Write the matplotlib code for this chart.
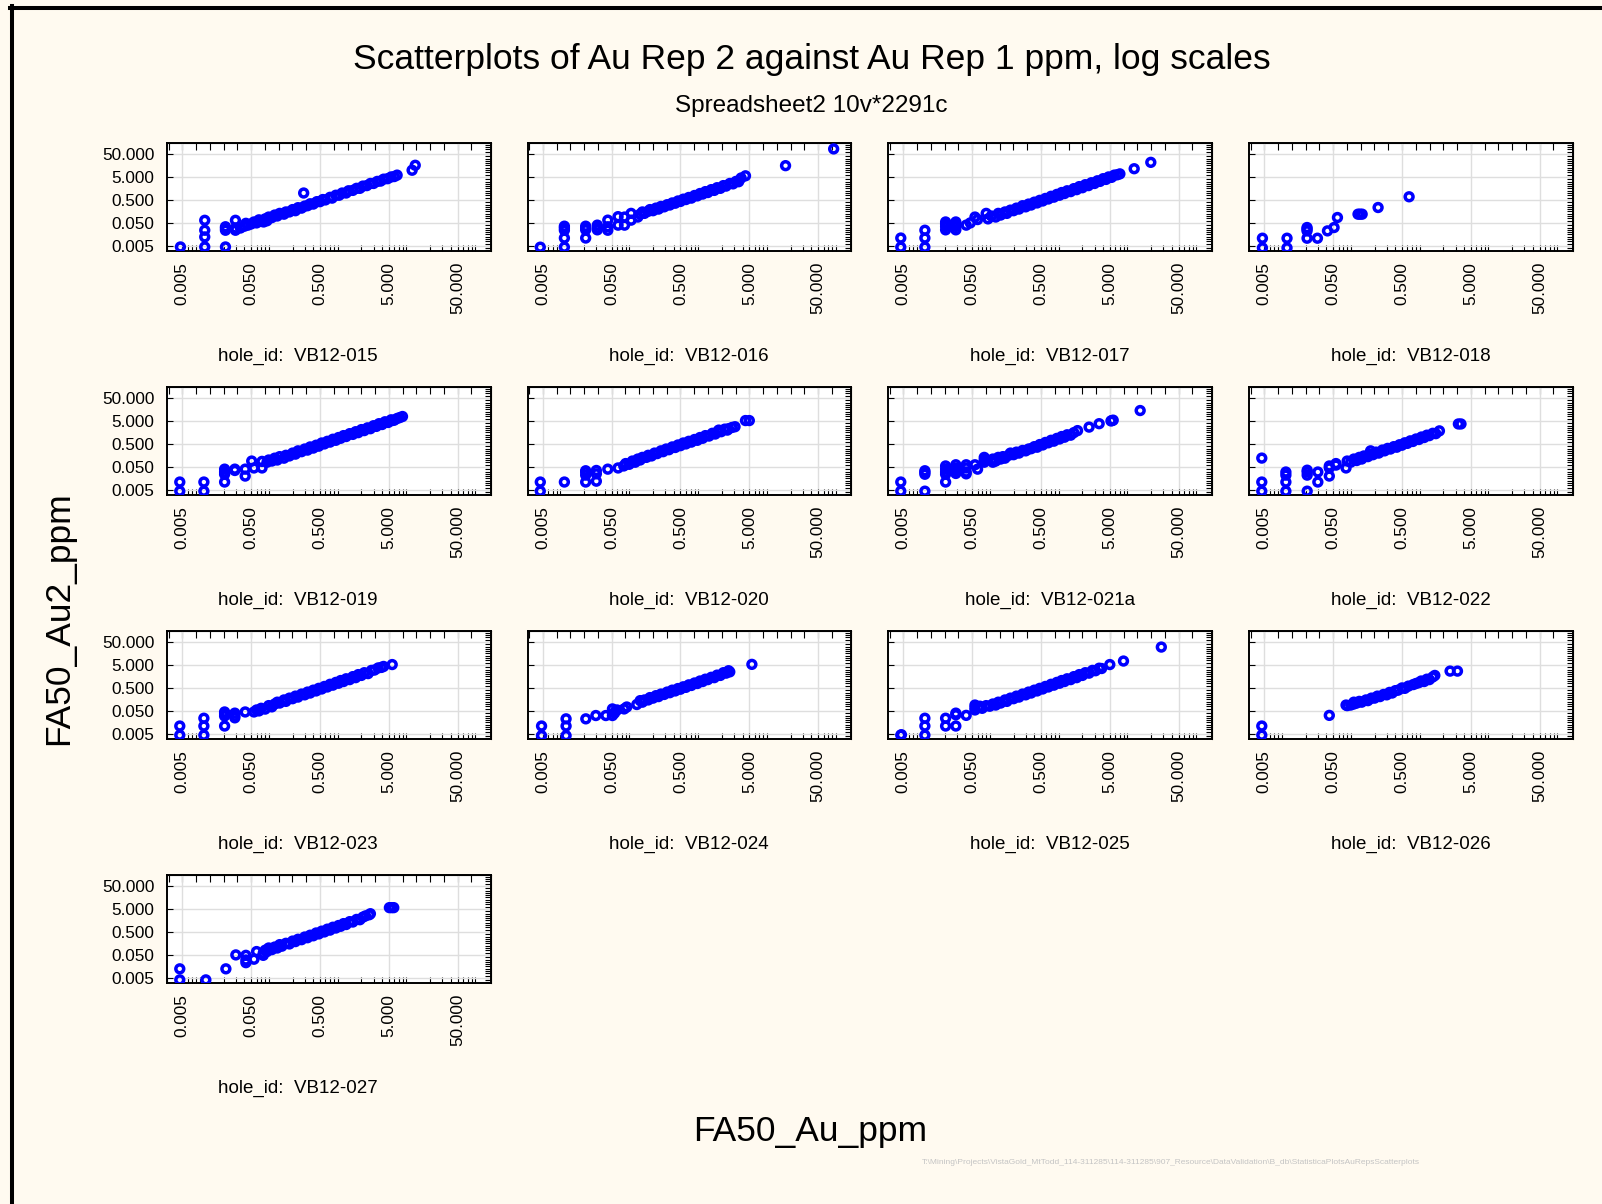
import numpy as np
import matplotlib
matplotlib.use("Agg")
import matplotlib.pyplot as plt
from matplotlib.lines import Line2D
from matplotlib.ticker import FixedLocator, FixedFormatter, LogLocator, NullFormatter, NullLocator

plt.rcParams["font.family"] = ["Liberation Sans", "DejaVu Sans"]

# ── Data: (Au Rep 1, Au Rep 2) in ppm ────────────────────────────────────────

pts_015 = [
    (0.0047, 0.0045), (0.0106, 0.0045), (0.0106, 0.0123), (0.0106, 0.024), (0.0106, 0.065),
    (0.0212, 0.0045), (0.0212, 0.024), (0.0212, 0.029), (0.0212, 0.034),
    (0.0296, 0.024), (0.0296, 0.03), (0.0296, 0.065),
    (0.035, 0.030), (0.04, 0.036), (0.042, 0.048), (0.045, 0.040), (0.05, 0.045),
    (0.055, 0.055), (0.06, 0.050), (0.065, 0.068), (0.07, 0.058), (0.076, 0.055),
    (0.08, 0.075), (0.085, 0.062), (0.09, 0.09), (0.1, 0.085), (0.11, 0.11),
    (0.12, 0.10), (0.13, 0.13), (0.15, 0.12), (0.16, 0.15), (0.18, 0.15),
    (0.2, 0.19), (0.22, 0.17), (0.24, 0.23), (0.27, 0.22), (0.3, 0.27),
    (0.33, 0.28), (0.36, 0.34), (0.4, 0.33), (0.45, 0.42), (0.5, 0.42),
    (0.55, 0.52), (0.6, 0.5), (0.7, 0.65), (0.75, 0.6), (0.85, 0.8),
    (0.95, 0.8), (1.05, 1.0), (1.2, 1.0), (1.3, 1.25), (1.5, 1.3),
    (1.7, 1.6), (1.9, 1.6), (2.1, 2.0), (2.4, 2.1), (2.7, 2.6),
    (3.0, 2.6), (3.4, 3.2), (3.8, 3.3), (4.2, 4.0), (4.8, 4.2),
    (5.4, 5.0), (6.0, 5.2), (6.6, 6.0),
    (0.29, 1.0), (10.9, 9.8), (12.1, 16.1),
]

pts_016 = [
    (0.0046, 0.0044), (0.0103, 0.0044), (0.0103, 0.011), (0.0103, 0.024), (0.0103, 0.030),
    (0.0103, 0.036), (0.021, 0.011), (0.021, 0.025), (0.021, 0.03), (0.021, 0.036),
    (0.031, 0.04), (0.031, 0.03), (0.031, 0.025),
    (0.044, 0.066), (0.044, 0.034), (0.044, 0.024),
    (0.062, 0.0935), (0.062, 0.04), (0.077, 0.04), (0.077, 0.09),
    (0.096, 0.066), (0.096, 0.13), (0.12, 0.09),
    (0.13, 0.12), (0.14, 0.15), (0.15, 0.13), (0.17, 0.16), (0.18, 0.19),
    (0.2, 0.17), (0.22, 0.22), (0.24, 0.2), (0.26, 0.26), (0.29, 0.25),
    (0.32, 0.31), (0.35, 0.3), (0.38, 0.37), (0.42, 0.36), (0.46, 0.45),
    (0.5, 0.43), (0.55, 0.54), (0.6, 0.52), (0.66, 0.64), (0.72, 0.6),
    (0.8, 0.78), (0.88, 0.75), (0.96, 0.95), (1.05, 0.9), (1.15, 1.15),
    (1.25, 1.05), (1.4, 1.4), (1.55, 1.3), (1.7, 1.7), (1.9, 1.6),
    (2.1, 2.1), (2.3, 2.0), (2.6, 2.6), (2.9, 2.5), (3.2, 3.2), (3.5, 3.1),
    (3.8, 4.5), (4.4, 5.6), (16.8, 15.5), (84.0, 83.0),
]

pts_017 = [
    (0.0046, 0.0044), (0.0046, 0.011), (0.0103, 0.0044), (0.0103, 0.011), (0.0103, 0.024),
    (0.0206, 0.055), (0.0206, 0.045), (0.0206, 0.035), (0.0206, 0.025),
    (0.029, 0.055), (0.029, 0.045), (0.029, 0.035), (0.029, 0.025),
    (0.041, 0.04), (0.047, 0.05), (0.055, 0.09), (0.06, 0.07), (0.08, 0.13),
    (0.085, 0.075), (0.095, 0.1), (0.11, 0.09), (0.12, 0.13), (0.13, 0.11),
    (0.15, 0.15), (0.16, 0.13), (0.18, 0.18), (0.2, 0.17), (0.22, 0.22),
    (0.24, 0.2), (0.27, 0.28), (0.3, 0.25), (0.33, 0.33), (0.36, 0.3),
    (0.4, 0.4), (0.44, 0.37), (0.48, 0.48), (0.53, 0.45), (0.58, 0.58),
    (0.64, 0.55), (0.7, 0.72), (0.77, 0.66), (0.85, 0.87), (0.93, 0.8),
    (1.0, 1.05), (1.1, 0.95), (1.2, 1.25), (1.35, 1.15), (1.5, 1.55),
    (1.65, 1.4), (1.8, 1.9), (2.0, 1.7), (2.2, 2.3), (2.45, 2.1),
    (2.7, 2.8), (3.0, 2.6), (3.3, 3.4), (3.6, 3.2), (4.0, 4.2),
    (4.4, 3.9), (4.8, 5.0), (5.3, 4.8), (5.8, 6.0), (6.4, 6.2), (7.0, 6.8),
    (11.3, 11.4), (19.7, 21.6),
]

pts_018 = [
    (0.0047, 0.0041), (0.0047, 0.0108), (0.0107, 0.0041), (0.0107, 0.0108),
    (0.0209, 0.0108), (0.0209, 0.0225), (0.0209, 0.027), (0.0209, 0.0315),
    (0.0296, 0.0108), (0.0414, 0.0225), (0.0516, 0.0315), (0.0578, 0.086),
    (0.115, 0.12), (0.123, 0.12), (0.132, 0.12), (0.225, 0.234), (0.635, 0.686),
]

pts_019 = [
    (0.0046, 0.0044), (0.0046, 0.011), (0.0103, 0.0044), (0.0103, 0.011),
    (0.0206, 0.011), (0.0206, 0.04), (0.0206, 0.03), (0.0206, 0.024),
    (0.029, 0.04), (0.029, 0.035), (0.041, 0.04), (0.041, 0.02),
    (0.051, 0.09), (0.055, 0.045), (0.072, 0.045), (0.072, 0.087),
    (0.085, 0.08), (0.09, 0.1), (0.1, 0.09), (0.11, 0.12), (0.12, 0.1),
    (0.13, 0.14), (0.15, 0.12), (0.16, 0.16), (0.18, 0.15), (0.2, 0.2),
    (0.22, 0.18), (0.24, 0.25), (0.27, 0.23), (0.3, 0.3), (0.33, 0.27),
    (0.36, 0.37), (0.4, 0.33), (0.44, 0.44), (0.48, 0.4), (0.53, 0.55),
    (0.58, 0.5), (0.64, 0.65), (0.7, 0.6), (0.77, 0.8), (0.85, 0.72),
    (0.93, 0.95), (1.0, 0.88), (1.1, 1.15), (1.2, 1.05), (1.35, 1.4),
    (1.5, 1.3), (1.65, 1.7), (1.8, 1.55), (2.0, 2.1), (2.2, 1.9),
    (2.45, 2.5), (2.7, 2.3), (3.0, 3.1), (3.3, 2.9), (3.6, 3.8),
    (4.0, 3.5), (4.4, 4.6), (4.9, 4.3), (5.4, 5.6), (6.0, 5.4),
    (6.6, 6.4), (7.2, 7.0), (7.9, 7.8), (5.6, 5.2),
]

pts_020 = [
    (0.0046, 0.0044), (0.0046, 0.011), (0.0103, 0.011),
    (0.021, 0.011), (0.021, 0.022), (0.021, 0.03), (0.021, 0.034),
    (0.03, 0.012), (0.03, 0.025), (0.03, 0.035), (0.044, 0.04), (0.062, 0.045),
    (0.075, 0.055), (0.08, 0.07), (0.09, 0.065), (0.1, 0.09), (0.11, 0.08),
    (0.12, 0.11), (0.13, 0.1), (0.14, 0.13), (0.16, 0.13), (0.17, 0.16),
    (0.19, 0.15), (0.21, 0.2), (0.23, 0.19), (0.26, 0.25), (0.28, 0.23),
    (0.31, 0.3), (0.34, 0.28), (0.38, 0.37), (0.42, 0.35), (0.46, 0.45),
    (0.5, 0.42), (0.55, 0.55), (0.6, 0.5), (0.66, 0.65), (0.72, 0.6),
    (0.8, 0.78), (0.88, 0.72), (0.96, 0.95), (1.05, 0.88), (1.15, 1.15),
    (1.3, 1.1), (1.45, 1.45), (1.6, 1.35), (1.75, 1.75), (1.95, 1.7),
    (2.2, 2.2), (2.5, 2.3), (2.8, 2.6), (3.1, 2.8),
    (1.8, 2.0), (2.4, 2.0), (4.4, 5.2), (5.0, 5.2),
]

pts_021a = [
    (0.0046, 0.0044), (0.0046, 0.011), (0.0103, 0.0044), (0.0103, 0.024),
    (0.0103, 0.034), (0.0103, 0.029), (0.0206, 0.011), (0.0206, 0.055),
    (0.0206, 0.04), (0.0206, 0.03), (0.0206, 0.024),
    (0.029, 0.062), (0.029, 0.045), (0.029, 0.035), (0.029, 0.026),
    (0.041, 0.062), (0.041, 0.045), (0.041, 0.03), (0.041, 0.025),
    (0.055, 0.062), (0.06, 0.04), (0.075, 0.13), (0.075, 0.1), (0.075, 0.08),
    (0.1, 0.08), (0.1, 0.11), (0.11, 0.09), (0.12, 0.13), (0.13, 0.11),
    (0.14, 0.14), (0.15, 0.12), (0.17, 0.16), (0.18, 0.2), (0.2, 0.17),
    (0.22, 0.22), (0.24, 0.2), (0.27, 0.26), (0.3, 0.25), (0.33, 0.3),
    (0.36, 0.31), (0.4, 0.38), (0.44, 0.36), (0.48, 0.47), (0.53, 0.45),
    (0.58, 0.58), (0.64, 0.56), (0.7, 0.72), (0.77, 0.66), (0.85, 0.87),
    (0.93, 0.82), (1.0, 1.05), (1.1, 0.98), (1.2, 1.25), (1.35, 1.2),
    (1.5, 1.55), (1.7, 1.9), (2.5, 2.7), (3.5, 3.8),
    (5.2, 5.0), (5.4, 5.2), (5.6, 5.4), (13.8, 14.2),
]

pts_022 = [
    (0.0046, 0.0044), (0.0046, 0.011), (0.0046, 0.121),
    (0.0103, 0.0044), (0.0103, 0.011), (0.0103, 0.022), (0.0103, 0.03),
    (0.021, 0.0044), (0.021, 0.022), (0.021, 0.03), (0.021, 0.036),
    (0.03, 0.011), (0.03, 0.03), (0.044, 0.02), (0.044, 0.045), (0.044, 0.055),
    (0.055, 0.06), (0.055, 0.07), (0.077, 0.045),
    (0.08, 0.09), (0.09, 0.08), (0.1, 0.11), (0.11, 0.095), (0.12, 0.13),
    (0.13, 0.11), (0.14, 0.15), (0.16, 0.14), (0.17, 0.18), (0.175, 0.25),
    (0.19, 0.17), (0.21, 0.22), (0.23, 0.2), (0.26, 0.27), (0.28, 0.25),
    (0.31, 0.32), (0.34, 0.3), (0.38, 0.38), (0.42, 0.36), (0.46, 0.46),
    (0.5, 0.44), (0.55, 0.56), (0.6, 0.53), (0.66, 0.68), (0.72, 0.64),
    (0.8, 0.82), (0.88, 0.78), (0.96, 1.0), (1.05, 0.95), (1.15, 1.2),
    (1.25, 1.15), (1.4, 1.45), (1.55, 1.4), (1.75, 1.85),
    (3.3, 3.7), (3.6, 3.7),
]

pts_023 = [
    (0.0046, 0.0044), (0.0046, 0.011), (0.0103, 0.0044), (0.0103, 0.011), (0.0103, 0.024),
    (0.0206, 0.011), (0.0206, 0.03), (0.0206, 0.038), (0.0206, 0.045),
    (0.029, 0.04), (0.029, 0.03), (0.029, 0.025), (0.041, 0.045),
    (0.055, 0.045), (0.06, 0.055),
    (0.065, 0.05), (0.07, 0.065), (0.08, 0.06), (0.09, 0.085), (0.1, 0.075),
    (0.11, 0.1), (0.12, 0.12), (0.13, 0.11), (0.15, 0.15), (0.16, 0.13),
    (0.18, 0.18), (0.2, 0.17), (0.22, 0.22), (0.24, 0.2), (0.27, 0.27),
    (0.3, 0.25), (0.33, 0.33), (0.36, 0.3), (0.4, 0.4), (0.44, 0.37),
    (0.48, 0.48), (0.53, 0.45), (0.58, 0.58), (0.64, 0.55), (0.7, 0.72),
    (0.77, 0.66), (0.85, 0.87), (0.93, 0.8), (1.0, 1.05), (1.1, 0.95),
    (1.2, 1.25), (1.35, 1.15), (1.5, 1.55), (1.65, 1.4), (1.8, 1.9),
    (2.0, 1.75), (2.2, 2.3), (2.5, 2.1), (2.8, 2.9), (3.1, 3.0),
    (3.5, 3.7), (3.9, 3.9), (4.2, 4.3), (5.6, 5.2),
]

pts_024 = [
    (0.0048, 0.0042), (0.0048, 0.011), (0.0109, 0.0042), (0.0109, 0.011), (0.0109, 0.0226),
    (0.0211, 0.0226), (0.0295, 0.0315), (0.0412, 0.0315), (0.0514, 0.0315),
    (0.0514, 0.061), (0.055, 0.04), (0.057, 0.05), (0.06, 0.055), (0.076, 0.061),
    (0.083, 0.074), (0.116, 0.095),
    (0.13, 0.14), (0.14, 0.12), (0.15, 0.15), (0.17, 0.15), (0.18, 0.19),
    (0.2, 0.18), (0.22, 0.23), (0.24, 0.21), (0.26, 0.27), (0.29, 0.26),
    (0.32, 0.33), (0.35, 0.31), (0.38, 0.4), (0.42, 0.37), (0.46, 0.47),
    (0.5, 0.44), (0.55, 0.56), (0.6, 0.53), (0.66, 0.68), (0.72, 0.64),
    (0.8, 0.82), (0.88, 0.78), (0.96, 1.0), (1.05, 0.95), (1.15, 1.2),
    (1.25, 1.15), (1.4, 1.45), (1.55, 1.4), (1.7, 1.8), (1.9, 1.75),
    (2.1, 2.3), (2.3, 2.2), (2.5, 2.8), (2.6, 2.5), (5.45, 5.3),
]

pts_025 = [
    (0.0046, 0.0044), (0.0047, 0.0046), (0.0103, 0.0044), (0.0103, 0.011), (0.0103, 0.024),
    (0.0206, 0.011), (0.0206, 0.024), (0.029, 0.011), (0.029, 0.034), (0.029, 0.04),
    (0.041, 0.032), (0.055, 0.055), (0.055, 0.09), (0.055, 0.07),
    (0.065, 0.08), (0.07, 0.065), (0.08, 0.085), (0.09, 0.08), (0.1, 0.1),
    (0.11, 0.09), (0.12, 0.12), (0.13, 0.11), (0.15, 0.15), (0.16, 0.13),
    (0.18, 0.18), (0.2, 0.17), (0.22, 0.22), (0.24, 0.2), (0.27, 0.27),
    (0.3, 0.25), (0.33, 0.33), (0.36, 0.3), (0.4, 0.4), (0.44, 0.37),
    (0.48, 0.48), (0.53, 0.45), (0.58, 0.58), (0.64, 0.55), (0.7, 0.72),
    (0.77, 0.66), (0.85, 0.87), (0.93, 0.8), (1.0, 1.05), (1.1, 0.95),
    (1.2, 1.25), (1.35, 1.15), (1.5, 1.55), (1.65, 1.4), (1.8, 1.9),
    (2.0, 1.75), (2.2, 2.3), (2.5, 2.2), (2.8, 2.9), (3.1, 2.8),
    (3.5, 3.6), (3.8, 3.5), (5.0, 5.2), (7.9, 7.4), (28.0, 30.0),
]

pts_026 = [
    (0.0046, 0.0044), (0.0046, 0.011), (0.044, 0.032),
    (0.077, 0.09), (0.08, 0.085), (0.09, 0.09), (0.1, 0.1), (0.1, 0.12),
    (0.11, 0.11), (0.12, 0.13), (0.13, 0.12), (0.15, 0.15), (0.16, 0.14),
    (0.18, 0.18), (0.2, 0.18), (0.22, 0.22), (0.24, 0.21), (0.27, 0.26),
    (0.3, 0.25), (0.33, 0.32), (0.36, 0.3), (0.4, 0.38), (0.44, 0.4),
    (0.5, 0.5), (0.55, 0.48), (0.62, 0.6), (0.73, 0.7), (0.8, 0.78),
    (0.88, 0.85), (0.95, 1.0), (1.05, 0.95), (1.15, 1.2), (1.25, 1.15),
    (1.4, 1.5), (1.5, 1.75), (2.5, 2.7), (3.2, 2.7),
]

pts_027 = [
    (0.0046, 0.0041), (0.0046, 0.0124), (0.011, 0.0041), (0.0215, 0.0124),
    (0.03, 0.05), (0.042, 0.048), (0.042, 0.03), (0.042, 0.023),
    (0.055, 0.0325), (0.06, 0.07), (0.075, 0.048),
    (0.075, 0.06), (0.08, 0.08), (0.085, 0.07), (0.09, 0.1), (0.1, 0.085),
    (0.11, 0.11), (0.12, 0.1), (0.13, 0.14), (0.14, 0.12), (0.16, 0.16),
    (0.18, 0.15), (0.2, 0.2), (0.22, 0.19), (0.24, 0.24), (0.27, 0.23),
    (0.3, 0.3), (0.33, 0.28), (0.36, 0.36), (0.4, 0.34), (0.44, 0.45),
    (0.48, 0.41), (0.53, 0.54), (0.58, 0.5), (0.64, 0.66), (0.7, 0.6),
    (0.77, 0.8), (0.85, 0.74), (0.93, 0.95), (1.0, 0.88), (1.1, 1.15),
    (1.2, 1.05), (1.35, 1.4), (1.5, 1.35), (1.7, 1.75), (1.9, 1.7),
    (2.1, 2.2), (2.3, 2.5), (2.6, 2.8), (2.7, 3.1),
    (5.1, 5.7), (5.5, 5.7), (5.9, 5.7),
]

HOLES = ["VB12-015", "VB12-016", "VB12-017", "VB12-018",
         "VB12-019", "VB12-020", "VB12-021a", "VB12-022",
         "VB12-023", "VB12-024", "VB12-025", "VB12-026",
         "VB12-027"]
PANELS = [pts_015, pts_016, pts_017, pts_018,
          pts_019, pts_020, pts_021a, pts_022,
          pts_023, pts_024, pts_025, pts_026,
          pts_027]

MAJOR = [0.005, 0.05, 0.5, 5.0, 50.0]
MAJOR_LABELS = ["0.005", "0.050", "0.500", "5.000", "50.000"]
LIMITS = (0.003, 150.0)

TITLE = "Scatterplots of Au Rep 2 against Au Rep 1 ppm, log scales"
SUBTITLE = "Spreadsheet2 10v*2291c"
PATH_TEXT = (r"T:\Mining\Projects\VistaGold_MtTodd_114-311285\114-311285"
             r"\907_Resource\DataValidation\B_db\StatisticaPlotsAuRepsScatterplots")

# ── Layout (pixels) ───────────────────────────────────────────────────────────

W, H = 1602, 1204
BG = "#fffaf0"
COL_LEFT = [167, 527.5, 888, 1249]
ROW_TOP = [143, 387, 631, 875]
AX_W, AX_H = 323.5, 108

fig = plt.figure(figsize=(W / 100, H / 100), dpi=100, facecolor=BG)

top_ticks = [0.005 * 10 ** (k / 5) for k in range(-2, 22)]
right_ticks = [0.005 * 10 ** (k / 10) for k in range(-3, 45)]

for i, (hole, pts) in enumerate(zip(HOLES, PANELS)):
    r, c = divmod(i, 4)
    left, top = COL_LEFT[c], ROW_TOP[r]
    ax = fig.add_axes([left / W, 1 - (top + AX_H) / H, AX_W / W, AX_H / H])
    ax.set_facecolor("white")
    ax.set_xscale("log")
    ax.set_yscale("log")

    xs = [p[0] for p in pts]
    ys = [p[1] for p in pts]
    ax.scatter(xs, ys, s=32, facecolors="none", edgecolors="#0000ff",
               linewidths=2.5, zorder=3)

    ax.set_xlim(LIMITS)
    ax.set_ylim(LIMITS)
    for axis in (ax.xaxis, ax.yaxis):
        axis.set_major_locator(FixedLocator(MAJOR))
        axis.set_major_formatter(FixedFormatter(MAJOR_LABELS))
        axis.set_minor_locator(LogLocator(base=10, subs=np.arange(2, 10)))
        axis.set_minor_formatter(NullFormatter())

    ax.grid(True, which="major", color="#dedede", linewidth=1.0, zorder=0)
    ax.set_axisbelow(True)
    ax.tick_params(which="both", direction="in", top=False, right=False,
                   length=4, width=0.8, colors="black", labelsize=12.4)
    ax.tick_params(axis="x", which="major", pad=8, labelrotation=90)
    ax.tick_params(axis="y", which="major", pad=9, labelleft=(c == 0))
    for sp in ax.spines.values():
        sp.set_linewidth(1.4)
        sp.set_color("black")

    # evenly spaced inner ticks along the top and right edges
    sec_x = ax.secondary_xaxis("top")
    sec_x.xaxis.set_major_locator(FixedLocator(top_ticks))
    sec_x.xaxis.set_minor_locator(NullLocator())
    sec_x.tick_params(direction="in", length=5, width=0.8, labeltop=False)
    sec_y = ax.secondary_yaxis("right")
    sec_y.yaxis.set_major_locator(FixedLocator(right_ticks))
    sec_y.yaxis.set_minor_locator(NullLocator())
    sec_y.tick_params(direction="in", length=4, width=0.8, labelright=False)

    label_x = 298 if c == 0 else left + AX_W / 2
    fig.text(label_x / W, 1 - (top + 213) / H, f"hole_id:  {hole}",
             ha="center", va="center", fontsize=13.5)

# ── Titles, axis names, footer ───────────────────────────────────────────────

fig.text(812 / W, 1 - 59 / H, TITLE, ha="center", va="center", fontsize=25.5)
fig.text(811 / W, 1 - 106 / H, SUBTITLE, ha="center", va="center", fontsize=17.5)
fig.text(59 / W, 1 - 618 / H, "FA50_Au2_ppm", rotation=90,
         ha="center", va="center", fontsize=25.5)
fig.text(810 / W, 1 - 1131 / H, "FA50_Au_ppm", ha="center", va="center", fontsize=25.5)
fig.text(1171 / W, 1 - 1163 / H, PATH_TEXT, ha="center", va="center",
         fontsize=6.0, color="#c4c4c4",
         family=["Liberation Sans Narrow", "Liberation Sans", "DejaVu Sans"])

# black frame on the left and top edges
fig.add_artist(Line2D([12 / W, 12 / W], [0, 1 - 6 / H], color="black",
                      linewidth=2.9, transform=fig.transFigure))
fig.add_artist(Line2D([10 / W, 1], [1 - 8 / H, 1 - 8 / H], color="black",
                      linewidth=2.9, transform=fig.transFigure))

fig.savefig("out.png", dpi=100, facecolor=BG)
